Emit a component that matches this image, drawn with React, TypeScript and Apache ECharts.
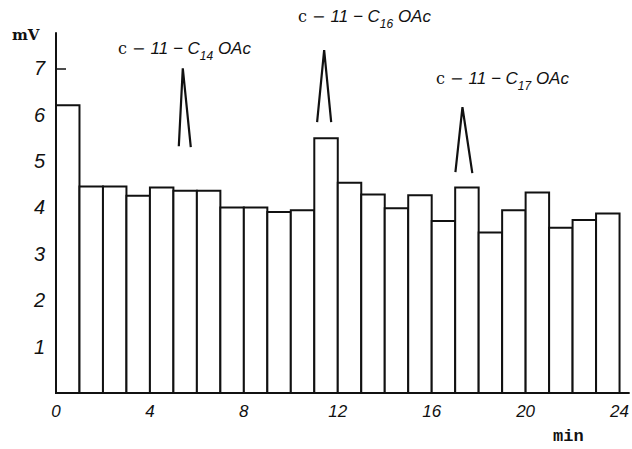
import React, { useEffect, useRef } from "react";
import * as echarts from "echarts";

const startMinutes = [0, 1, 2, 3, 4, 5, 6, 7, 8, 9, 10, 11, 12, 13, 14, 15, 16, 17, 18, 19, 20, 21, 22, 23];
const signalMv = [6.2, 4.45, 4.45, 4.25, 4.43, 4.36, 4.36, 4.0, 4.0, 3.9, 3.94, 5.49, 4.53, 4.28, 3.98, 4.26, 3.71, 4.43, 3.46, 3.94, 4.32, 3.56, 3.73, 3.87];
const xTickLabels = [0, 4, 8, 12, 16, 20, 24];
const yTickLabels = [1, 2, 3, 4, 5, 6, 7];
const peakC14 = [[5.23, 5.32], [5.4, 7.0], [5.74, 5.3]];
const peakC16 = [[11.12, 5.84], [11.42, 7.39], [11.72, 5.84]];
const peakC17 = [[17.01, 4.76], [17.31, 6.16], [17.73, 4.74]];
const peakNames = ["14", "16", "17"];

const italicSans = "'Liberation Sans', 'DejaVu Sans', sans-serif";

function labelRich(sub: string) {
  return {
    text: `{a|c − }{b|11 − C}{s|${sub}}{b| OAc}`,
    rich: {
      a: { fontFamily: "'DejaVu Serif', serif", fontSize: 16, fill: "#111" },
      b: { fontFamily: italicSans, fontStyle: "italic", fontSize: 17, fill: "#111" },
      s: { fontFamily: italicSans, fontStyle: "italic", fontSize: 12, fill: "#111", padding: [14, 0, 0, 0] },
    },
  };
}

export default function App() {
  const ref = useRef<HTMLDivElement>(null);
  useEffect(() => {
    const chart = echarts.init(ref.current!, null, { renderer: "svg" });
    const peakSeries = (data: number[][]) => ({
      type: "line",
      data,
      symbol: "none",
      lineStyle: { color: "#111", width: 2.2 },
      z: 5,
    });
    chart.setOption({
      animation: false,
      backgroundColor: "#fff",
      grid: { left: 56, right: 0, top: 33, bottom: 56 },
      xAxis: {
        type: "value",
        min: 0,
        max: 24.4,
        interval: 4,
        axisLine: { show: true, lineStyle: { color: "#111", width: 2 } },
        axisTick: { show: false },
        splitLine: { show: false },
        axisLabel: {
          customValues: xTickLabels,
          fontFamily: italicSans,
          fontStyle: "italic",
          fontSize: 17,
          color: "#111",
          margin: 10,
        },
      },
      yAxis: {
        type: "value",
        min: 0,
        max: 7.76,
        interval: 1,
        axisLine: { show: true, lineStyle: { color: "#111", width: 2 } },
        axisTick: { show: true, inside: true, length: 10, customValues: yTickLabels, lineStyle: { color: "#111", width: 1.5 } },
        splitLine: { show: false },
        axisLabel: {
          customValues: yTickLabels,
          fontFamily: italicSans,
          fontStyle: "italic",
          fontSize: 20,
          color: "#111",
          margin: 11,
        },
      },
      series: [
        {
          type: "custom",
          data: startMinutes.map((m, i) => [m, signalMv[i]]),
          encode: { x: 0, y: 1 },
          renderItem: (params: any, api: any) => {
            const x0 = api.value(0);
            const v = api.value(1);
            const p1 = api.coord([x0, v]);
            const p2 = api.coord([x0 + 1, 0]);
            return {
              type: "rect",
              shape: { x: p1[0], y: p1[1], width: p2[0] - p1[0], height: p2[1] - p1[1] },
              style: { fill: "#fff", stroke: "#111", lineWidth: 2 },
            };
          },
          z: 2,
        },
        peakSeries(peakC14),
        peakSeries(peakC16),
        peakSeries(peakC17),
      ],
      graphic: [
        { type: "text", left: 183 - 65, top: 40, style: labelRich(peakNames[0]) },
        { type: "text", left: 298, top: 8, style: labelRich(peakNames[1]) },
        { type: "text", left: 436, top: 70, style: labelRich(peakNames[2]) },
        {
          type: "text",
          left: 12,
          top: 27,
          style: { text: "mV", fontFamily: "'DejaVu Serif', serif", fontWeight: "bold", fontSize: 15, fill: "#111" },
        },
        {
          type: "text",
          left: 553,
          top: 428,
          style: { text: "min", fontFamily: "'Liberation Mono', monospace", fontWeight: "bold", fontSize: 17, fill: "#111" },
        },
      ],
    });
    return () => chart.dispose();
  }, []);
  return <div ref={ref} style={{ position: "fixed", left: 0, top: 0, width: 632, height: 449 }} />;
}
